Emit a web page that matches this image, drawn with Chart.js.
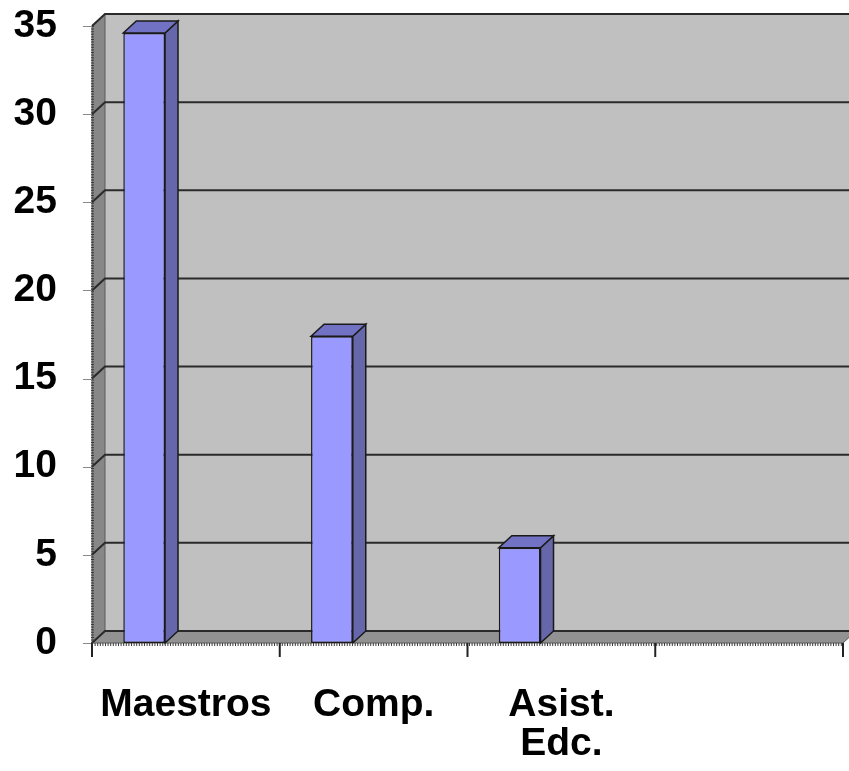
<!DOCTYPE html>
<html>
<head>
<meta charset="utf-8">
<script src="https://cdn.jsdelivr.net/npm/chart.js@4/dist/chart.umd.min.js"></script>
<style>
  html, body { margin: 0; padding: 0; background: #ffffff; }
  #wrap { width: 849px; height: 771px; }
</style>
</head>
<body>
<div id="wrap"><canvas id="c" width="849" height="771"></canvas></div>
<script>
const categories = ['Maestros', 'Comp.', ['Asist.', 'Edc.'], ''];
const series1 = [34.6, 17.4, 5.4, null];
const series2 = [null, null, null, null];
const series3 = [null, null, null, null];
const yTicks = [0, 5, 10, 15, 20, 25, 30, 35];

const D = { x: 13, y: -12 };
const FONT = "'Liberation Sans', Arial, sans-serif";

function poly(ctx, pts, fill, stroke, lw) {
  ctx.beginPath();
  ctx.moveTo(pts[0][0], pts[0][1]);
  for (let i = 1; i < pts.length; i++) ctx.lineTo(pts[i][0], pts[i][1]);
  ctx.closePath();
  if (fill) { ctx.fillStyle = fill; ctx.fill(); }
  if (stroke) { ctx.strokeStyle = stroke; ctx.lineWidth = lw || 1; ctx.stroke(); }
}

const depthPlugin = {
  id: 'depth3d',
  beforeDatasetsDraw(chart) {
    const { ctx, chartArea: a, scales: { x, y } } = chart;
    const yTop = y.getPixelForValue(y.max), yBot = y.getPixelForValue(y.min);
    ctx.save();
    poly(ctx, [[a.left + D.x, yTop + D.y], [a.right + D.x, yTop + D.y], [a.right + D.x, yBot + D.y], [a.left + D.x, yBot + D.y]], '#c0c0c0');
    poly(ctx, [[a.left, yTop], [a.left + D.x, yTop + D.y], [a.left + D.x, yBot + D.y], [a.left, yBot]], '#878787', '#5a5a5a', 1);
    poly(ctx, [[a.left, yBot], [a.right, yBot], [a.right + D.x, yBot + D.y], [a.left + D.x, yBot + D.y]], '#929292', '#5a5a5a', 1);
    ctx.strokeStyle = '#2a2a2a';
    ctx.lineWidth = 2;
    yTicks.forEach(v => {
      const py = y.getPixelForValue(v);
      ctx.beginPath();
      ctx.moveTo(a.left, py);
      ctx.lineTo(a.left + D.x, py + D.y);
      ctx.lineTo(a.right + D.x, py + D.y);
      ctx.stroke();
    });
    ctx.restore();
  },
  afterDatasetsDraw(chart) {
    const { ctx } = chart;
    ctx.save();
    chart.data.datasets.forEach((ds, di) => {
      const meta = chart.getDatasetMeta(di);
      meta.data.forEach((bar, i) => {
        if (ds.data[i] === null || ds.data[i] === undefined) return;
        const p = bar.getProps(['x', 'y', 'width', 'base'], true);
        const l = p.x - p.width / 2, r = p.x + p.width / 2, t = p.y, b = p.base;
        poly(ctx, [[r, t], [r + D.x, t + D.y], [r + D.x, b + D.y], [r, b]], '#6666aa', '#1a1a1a', 1.5);
        poly(ctx, [[l, t], [r, t], [r + D.x, t + D.y], [l + D.x, t + D.y]], '#7272c4', '#1a1a1a', 1.5);
      });
    });
    ctx.restore();
  },
  afterDraw(chart) {
    const { ctx, chartArea: a, scales: { x, y } } = chart;
    const yBot = y.getPixelForValue(y.min), yTop = y.getPixelForValue(y.max);
    ctx.save();
    ctx.strokeStyle = '#3a3a3a';
    ctx.lineWidth = 3;
    ctx.setLineDash([1, 1.6]);
    ctx.beginPath();
    ctx.moveTo(a.left + 0.5, yTop);
    ctx.lineTo(a.left + 0.5, yBot);
    ctx.stroke();
    ctx.beginPath();
    ctx.moveTo(a.left, yBot + 1.5);
    ctx.lineTo(a.right, yBot + 1.5);
    ctx.stroke();
    ctx.setLineDash([]);
    ctx.strokeStyle = '#888888';
    ctx.lineWidth = 1;
    yTicks.forEach(v => {
      const py = Math.round(y.getPixelForValue(v)) + 0.5;
      ctx.beginPath();
      ctx.moveTo(a.left - 9, py);
      ctx.lineTo(a.left, py);
      ctx.stroke();
    });
    ctx.strokeStyle = '#222222';
    ctx.lineWidth = 2;
    const n = categories.length;
    const step = x.getPixelForValue(1) - x.getPixelForValue(0);
    for (let i = 0; i <= n; i++) {
      const px = i < n ? x.getPixelForValue(i) - step / 2 : a.right;
      ctx.beginPath();
      ctx.moveTo(px, yBot);
      ctx.lineTo(px, yBot + 14);
      ctx.stroke();
    }
    ctx.restore();
  }
};

new Chart(document.getElementById('c'), {
  type: 'bar',
  data: {
    labels: categories,
    datasets: [
      { data: series1, backgroundColor: '#9999ff', borderColor: '#1a1a1a', borderWidth: 1.5, borderSkipped: false },
      { data: series2, backgroundColor: '#993366', borderColor: '#1a1a1a', borderWidth: 1.5, borderSkipped: false },
      { data: series3, backgroundColor: '#ffffcc', borderColor: '#1a1a1a', borderWidth: 1.5, borderSkipped: false }
    ]
  },
  options: {
    responsive: false,
    animation: false,
    devicePixelRatio: 1,
    layout: { padding: { top: 26, right: 6, left: 0, bottom: 0 } },
    plugins: { legend: { display: false }, tooltip: { enabled: false } },
    datasets: { bar: { categoryPercentage: 3 / 4.5, barPercentage: 1 } },
    scales: {
      x: {
        grid: { display: false, drawTicks: false },
        border: { display: false },
        ticks: {
          padding: 43,
          maxRotation: 0,
          autoSkip: false,
          color: '#000000',
          font: { family: FONT, size: 39, weight: 'bold', lineHeight: 1.0 }
        },
        afterFit(scale) {
          scale.height = 771 - 643;
          scale.paddingLeft = 0; scale.paddingRight = 0;
        }
      },
      y: {
        min: 0,
        max: 35,
        grid: { display: false, drawTicks: false },
        border: { display: false },
        afterBuildTicks(scale) { scale.ticks = yTicks.map(v => ({ value: v })); },
        ticks: {
          padding: 35,
          color: '#000000',
          font: { family: FONT, size: 39, weight: 'bold' }
        },
        afterFit(scale) {
          scale.width = 92;
          scale.paddingTop = 0; scale.paddingBottom = 0;
        }
      }
    }
  },
  plugins: [depthPlugin]
});
</script>
</body>
</html>
